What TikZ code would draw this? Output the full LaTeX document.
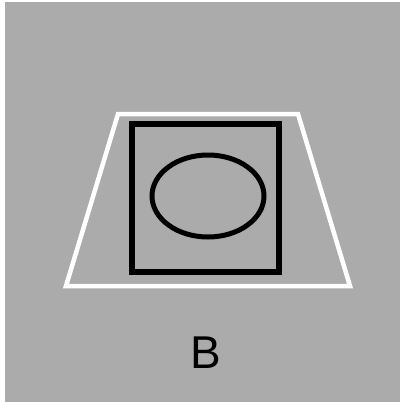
\documentclass[tikz,border=0pt]{standalone}
\usepackage{fontspec}
\setmainfont{Liberation Sans}
\usetikzlibrary{positioning}

\begin{document}
\begin{tikzpicture}[
    x=1pt, y=-1pt,
    outline/.style={draw=white, line width=4.5pt, line join=miter},
    frame/.style={draw=black, line width=6pt},
    label/.style={font=\fontsize{46}{46}\selectfont, inner sep=0pt}
]
\useasboundingbox (0,0) rectangle (400,402);
% Background
\fill[black!33] (5,2) rectangle (400,402);

% Trapezoid
\draw[outline] (118,114) -- (298,114) -- (350,286) -- (66,286) -- cycle;

% Square and ellipse
\draw[frame] (132,124) rectangle (278.5,271.5);
\draw[black, line width=5pt] (208,196) ellipse [x radius=56, y radius=41];

% Letter
\node[label] (letter) at (206,353) {B};
\end{tikzpicture}
\end{document}
